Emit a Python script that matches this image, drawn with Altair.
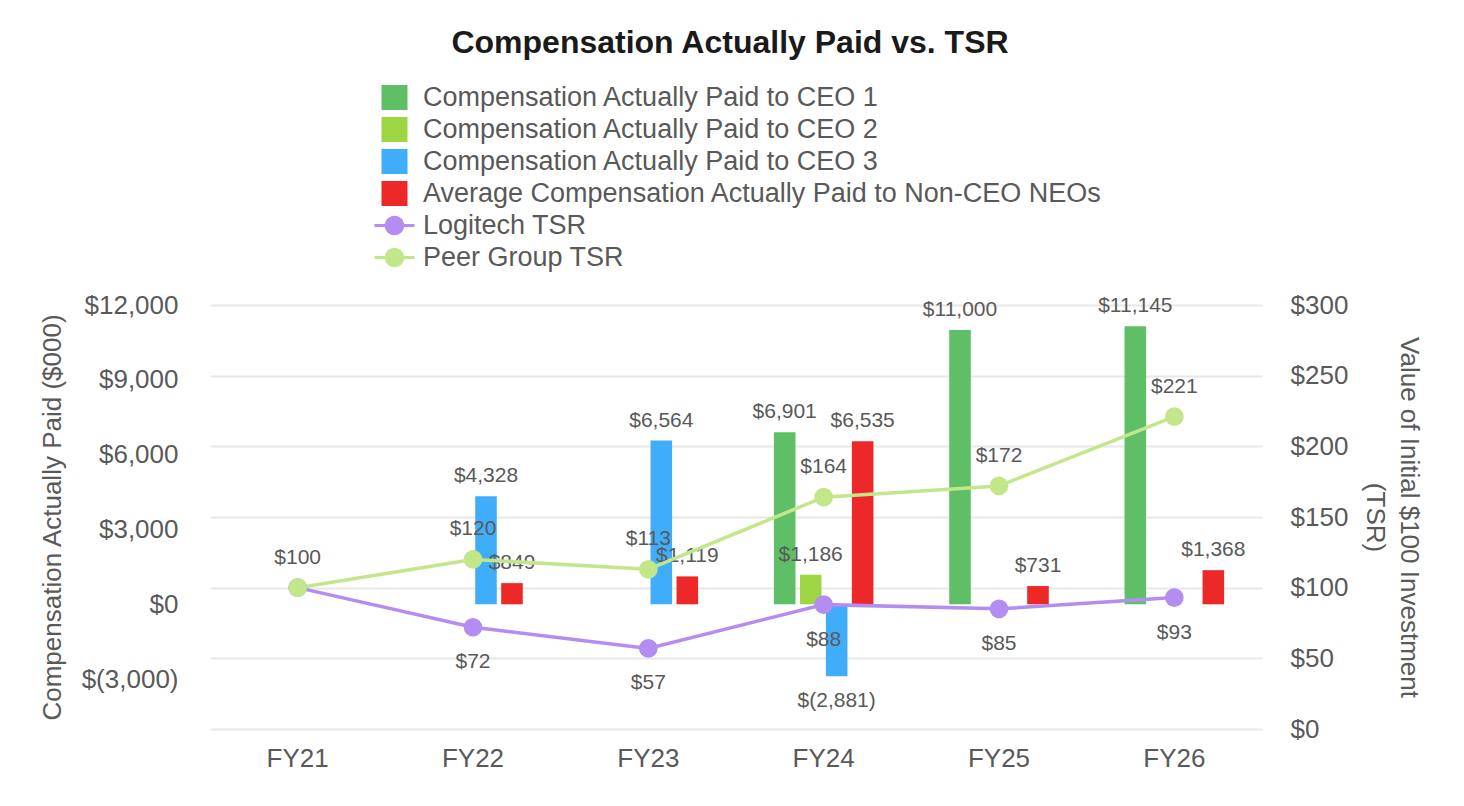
import altair as alt
import pandas as pd

# ---------------- data ----------------
years = ["FY21", "FY22", "FY23", "FY24", "FY25", "FY26"]
bar_series = [
    "Compensation Actually Paid to CEO 1",
    "Compensation Actually Paid to CEO 2",
    "Compensation Actually Paid to CEO 3",
    "Average Compensation Actually Paid to Non-CEO NEOs",
]
line_series = ["Logitech TSR", "Peer Group TSR"]
all_series = bar_series + line_series

ceo1 = [None, None, None, 6901, 11000, 11145]
ceo2 = [None, None, None, 1186, None, None]
ceo3 = [None, 4328, 6564, -2881, None, None]
neo = [None, 849, 1119, 6535, 731, 1368]
logitech_tsr = [100, 72, 57, 88, 85, 93]
peer_tsr = [100, 120, 113, 164, 172, 221]

left_ticks = [-3000, 0, 3000, 6000, 9000, 12000]
right_ticks = [0, 50, 100, 150, 200, 250, 300]

colors = ["#5FBF67", "#9CD743", "#3FADFA", "#ED2828", "#B38DF1", "#C2E78B"]

# ---------------- tables ----------------
bar_rows = []
for name, vals in zip(bar_series, [ceo1, ceo2, ceo3, neo]):
    for y, v in zip(years, vals):
        if v is not None:
            bar_rows.append({"year": y, "series": name, "value": v})
bars_df = pd.DataFrame(bar_rows)

tsr_rows = []
for name, vals in zip(line_series, [logitech_tsr, peer_tsr]):
    for y, v in zip(years, vals):
        tsr_rows.append({"year": y, "series": name, "tsr": v})
tsr_df = pd.DataFrame(tsr_rows)

legend_df = pd.DataFrame({"series": all_series})

TEXT = "#595959"
FONT = "Liberation Sans"

color_scale = alt.Scale(domain=all_series, range=colors)

x_enc = alt.X(
    "year:N",
    sort=years,
    scale=alt.Scale(domain=years, paddingInner=0.407, paddingOuter=0.2035),
    axis=alt.Axis(
        title=None, labelAngle=0, ticks=False, domain=False, grid=False,
        labelFontSize=26, labelColor=TEXT, labelFont=FONT, labelPadding=16,
    ),
)
xoff_enc = alt.XOffset(
    "series:N",
    scale=alt.Scale(domain=bar_series, paddingInner=0.17, paddingOuter=0.085),
)
y_left = alt.Y(
    "value:Q",
    scale=alt.Scale(domain=[-5000, 12000], nice=False, zero=False),
    axis=alt.Axis(
        orient="left", values=left_ticks, grid=False, ticks=False, domain=False,
        labelExpr="datum.value < 0 ? '$(' + format(-datum.value, ',') + ')' : '$' + format(datum.value, ',')",
        labelFontSize=26, labelColor=TEXT, labelFont=FONT, labelPadding=32,
        title="Compensation Actually Paid ($000)", titleFontSize=26,
        titleFontWeight="normal", titleColor=TEXT, titleFont=FONT, titlePadding=16,
    ),
)
y_right = alt.Y(
    "tsr:Q",
    scale=alt.Scale(domain=[0, 300], nice=False),
    axis=alt.Axis(
        orient="right", values=right_ticks, grid=True, gridColor="#E8E8E8",
        gridWidth=2, ticks=False, domain=False,
        labelExpr="'$' + datum.value",
        labelFontSize=26, labelColor=TEXT, labelFont=FONT, labelPadding=28,
        title=["Value of Initial $100 Investment", "(TSR)"], titleFontSize=26,
        titleFontWeight="normal", titleColor=TEXT, titleFont=FONT,
        titlePadding=14, titleLineHeight=34,
    ),
)

label_expr = "datum.value < 0 ? '$(' + format(-datum.value, ',') + ')' : '$' + format(datum.value, ',')"

bars_base = alt.Chart(bars_df).transform_calculate(label=label_expr)

bars = bars_base.mark_bar().encode(
    x=x_enc, xOffset=xoff_enc, y=y_left,
    color=alt.Color("series:N", scale=color_scale, legend=None),
)
bar_text_pos = bars_base.transform_filter("datum.value >= 0").mark_text(
    dy=-20, fontSize=21, color=TEXT, font=FONT, baseline="middle"
).encode(x=x_enc, xOffset=xoff_enc, y=y_left, text="label:N")
bar_text_neg = bars_base.transform_filter("datum.value < 0").mark_text(
    dy=25, fontSize=21, color=TEXT, font=FONT, baseline="middle"
).encode(x=x_enc, xOffset=xoff_enc, y=y_left, text="label:N")

bar_group = alt.layer(bars, bar_text_pos, bar_text_neg)

tsr_base = alt.Chart(tsr_df).transform_calculate(label="'$' + datum.tsr")

lines = tsr_base.mark_line(strokeWidth=3.5).encode(
    x=x_enc, y=y_right,
    color=alt.Color("series:N", scale=color_scale, legend=None),
    detail="series:N",
)
points = tsr_base.mark_point(filled=True, size=350, opacity=1).encode(
    x=x_enc, y=y_right,
    color=alt.Color("series:N", scale=color_scale, legend=None),
)
peer_text = tsr_base.transform_filter("datum.series == 'Peer Group TSR'").mark_text(
    dy=-30, fontSize=21, color=TEXT, font=FONT, baseline="middle"
).encode(x=x_enc, y=y_right, text="label:N")
logi_text = tsr_base.transform_filter(
    "datum.series == 'Logitech TSR' && datum.year != 'FY21'"
).mark_text(
    dy=35, fontSize=21, color=TEXT, font=FONT, baseline="middle"
).encode(x=x_enc, y=y_right, text="label:N")

tsr_group = alt.layer(lines, points, peer_text, logi_text)

rect_sym = "M-1,-0.96H1V0.96H-1Z"
tsr_sym = ("M-1.54,-0.12H-0.7V0.12H-1.54Z M0.7,-0.12H1.54V0.12H0.7Z "
           "M0.75,0A0.75,0.75 0 1,1 -0.75,0A0.75,0.75 0 1,1 0.75,0Z")

legend_props = dict(
    title=None, orient="none", legendX=171, legendY=-221, direction="vertical",
    labelFontSize=27, labelColor=TEXT, labelFont=FONT, labelLimit=900,
    symbolSize=676, symbolStrokeWidth=0, symbolOpacity=1, rowPadding=4,
    labelOffset=15, padding=0,
)
# invisible helper marks that only carry the legend
legend_layer = alt.Chart(legend_df).mark_point(
    filled=True, opacity=0, size=1
).encode(
    x=alt.value(0), y=alt.value(0),
    color=alt.Color("series:N", scale=color_scale, legend=alt.Legend(**legend_props)),
    shape=alt.Shape(
        "series:N",
        scale=alt.Scale(domain=all_series, range=[rect_sym] * 4 + [tsr_sym] * 2),
        legend=alt.Legend(**legend_props),
    ),
)

chart = alt.layer(bar_group, tsr_group, legend_layer).resolve_scale(
    y="independent"
).resolve_legend(
    color="independent", shape="independent"
).properties(
    width=1052,
    height=424,
    title=alt.TitleParams(
        "Compensation Actually Paid vs. TSR", fontSize=32, fontWeight="bold",
        color="#1A1A1A", font=FONT, anchor="middle", offset=24, dx=-6,
    ),
    autosize=alt.AutoSizeParams(type="none"),
    padding={"left": 202, "top": 297, "right": 190, "bottom": 60},
    background="white",
).configure_view(stroke=None)

chart.save("out.html", embed_options={"renderer": "svg", "actions": False})
